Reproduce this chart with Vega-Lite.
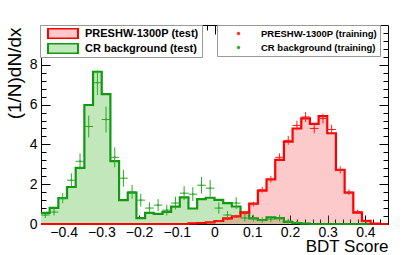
{
  "$schema": "https://vega.github.io/schema/vega-lite/v6.json",
  "width": 347,
  "height": 199,
  "autosize": "none",
  "padding": {"left": 41, "top": 25, "right": 21, "bottom": 31},
  "background": "white",
  "config": {
    "view": {"stroke": "black", "strokeWidth": 1},
    "axis": {"domain": false, "grid": false, "labelFont": "Liberation Sans", "labelFontSize": 14, "labelColor": "black", "tickColor": "black", "tickWidth": 1, "titleFont": "Liberation Sans", "titleFontWeight": "normal", "titleColor": "black", "labelOverlap": false, "labelFlush": false, "zindex": 1},
    "legend": {"labelFont": "Liberation Sans", "labelFontWeight": "bold", "labelColor": "black"}
  },
  "datasets": {
    "test": [
      {"s": "CR background (test)", "lo": -0.46, "v": 0.56},
      {"s": "CR background (test)", "lo": -0.437, "v": 0.81},
      {"s": "CR background (test)", "lo": -0.414, "v": 1.3},
      {"s": "CR background (test)", "lo": -0.391, "v": 1.86},
      {"s": "CR background (test)", "lo": -0.368, "v": 2.82},
      {"s": "CR background (test)", "lo": -0.345, "v": 5.98},
      {"s": "CR background (test)", "lo": -0.322, "v": 7.65},
      {"s": "CR background (test)", "lo": -0.299, "v": 6.53},
      {"s": "CR background (test)", "lo": -0.276, "v": 3.16},
      {"s": "CR background (test)", "lo": -0.253, "v": 1.2},
      {"s": "CR background (test)", "lo": -0.23, "v": 1.58},
      {"s": "CR background (test)", "lo": -0.207, "v": 0.3},
      {"s": "CR background (test)", "lo": -0.184, "v": 0.56},
      {"s": "CR background (test)", "lo": -0.161, "v": 0.51},
      {"s": "CR background (test)", "lo": -0.138, "v": 0.61},
      {"s": "CR background (test)", "lo": -0.115, "v": 0.87},
      {"s": "CR background (test)", "lo": -0.092, "v": 1.34},
      {"s": "CR background (test)", "lo": -0.069, "v": 0.78},
      {"s": "CR background (test)", "lo": -0.046, "v": 1.25},
      {"s": "CR background (test)", "lo": -0.023, "v": 1.32},
      {"s": "CR background (test)", "lo": 0, "v": 1.21},
      {"s": "CR background (test)", "lo": 0.023, "v": 1.05},
      {"s": "CR background (test)", "lo": 0.046, "v": 0.88},
      {"s": "CR background (test)", "lo": 0.069, "v": 0.56},
      {"s": "CR background (test)", "lo": 0.092, "v": 0.28},
      {"s": "CR background (test)", "lo": 0.115, "v": 0.2},
      {"s": "CR background (test)", "lo": 0.138, "v": 0.34},
      {"s": "CR background (test)", "lo": 0.161, "v": 0.3},
      {"s": "CR background (test)", "lo": 0.184, "v": 0.1},
      {"s": "CR background (test)", "lo": 0.207, "v": 0.04},
      {"s": "CR background (test)", "lo": 0.23, "v": 0.02},
      {"s": "CR background (test)", "lo": 0.253, "v": 0},
      {"s": "CR background (test)", "lo": 0.276, "v": 0},
      {"s": "CR background (test)", "lo": 0.299, "v": 0},
      {"s": "CR background (test)", "lo": 0.322, "v": 0},
      {"s": "CR background (test)", "lo": 0.345, "v": 0},
      {"s": "CR background (test)", "lo": 0.368, "v": 0},
      {"s": "CR background (test)", "lo": 0.391, "v": 0},
      {"s": "CR background (test)", "lo": 0.414, "v": 0},
      {"s": "CR background (test)", "lo": 0.437, "v": 0},
      {"s": "CR background (test)", "lo": 0.46, "v": 0},
      {"s": "PRESHW-1300P (test)", "lo": -0.46, "v": 0},
      {"s": "PRESHW-1300P (test)", "lo": -0.437, "v": 0},
      {"s": "PRESHW-1300P (test)", "lo": -0.414, "v": 0},
      {"s": "PRESHW-1300P (test)", "lo": -0.391, "v": 0},
      {"s": "PRESHW-1300P (test)", "lo": -0.368, "v": 0},
      {"s": "PRESHW-1300P (test)", "lo": -0.345, "v": 0},
      {"s": "PRESHW-1300P (test)", "lo": -0.322, "v": 0},
      {"s": "PRESHW-1300P (test)", "lo": -0.299, "v": 0},
      {"s": "PRESHW-1300P (test)", "lo": -0.276, "v": 0},
      {"s": "PRESHW-1300P (test)", "lo": -0.253, "v": 0},
      {"s": "PRESHW-1300P (test)", "lo": -0.23, "v": 0},
      {"s": "PRESHW-1300P (test)", "lo": -0.207, "v": 0},
      {"s": "PRESHW-1300P (test)", "lo": -0.184, "v": 0},
      {"s": "PRESHW-1300P (test)", "lo": -0.161, "v": 0},
      {"s": "PRESHW-1300P (test)", "lo": -0.138, "v": 0},
      {"s": "PRESHW-1300P (test)", "lo": -0.115, "v": 0},
      {"s": "PRESHW-1300P (test)", "lo": -0.092, "v": 0},
      {"s": "PRESHW-1300P (test)", "lo": -0.069, "v": 0.03},
      {"s": "PRESHW-1300P (test)", "lo": -0.046, "v": 0.05},
      {"s": "PRESHW-1300P (test)", "lo": -0.023, "v": 0.08},
      {"s": "PRESHW-1300P (test)", "lo": 0, "v": 0.15},
      {"s": "PRESHW-1300P (test)", "lo": 0.023, "v": 0.28},
      {"s": "PRESHW-1300P (test)", "lo": 0.046, "v": 0.38},
      {"s": "PRESHW-1300P (test)", "lo": 0.069, "v": 0.58},
      {"s": "PRESHW-1300P (test)", "lo": 0.092, "v": 1.02},
      {"s": "PRESHW-1300P (test)", "lo": 0.115, "v": 1.68},
      {"s": "PRESHW-1300P (test)", "lo": 0.138, "v": 2.24},
      {"s": "PRESHW-1300P (test)", "lo": 0.161, "v": 3.22},
      {"s": "PRESHW-1300P (test)", "lo": 0.184, "v": 4.14},
      {"s": "PRESHW-1300P (test)", "lo": 0.207, "v": 4.8},
      {"s": "PRESHW-1300P (test)", "lo": 0.23, "v": 5.31},
      {"s": "PRESHW-1300P (test)", "lo": 0.253, "v": 5.03},
      {"s": "PRESHW-1300P (test)", "lo": 0.276, "v": 5.42},
      {"s": "PRESHW-1300P (test)", "lo": 0.299, "v": 4.56},
      {"s": "PRESHW-1300P (test)", "lo": 0.322, "v": 2.72},
      {"s": "PRESHW-1300P (test)", "lo": 0.345, "v": 1.58},
      {"s": "PRESHW-1300P (test)", "lo": 0.368, "v": 0.57},
      {"s": "PRESHW-1300P (test)", "lo": 0.391, "v": 0.16},
      {"s": "PRESHW-1300P (test)", "lo": 0.414, "v": 0.02},
      {"s": "PRESHW-1300P (test)", "lo": 0.437, "v": 0},
      {"s": "PRESHW-1300P (test)", "lo": 0.46, "v": 0}
    ],
    "train": [
      {"s": "CR background (training)", "lo": -0.46, "hi": -0.437, "c": -0.4485, "v": 0.45, "e1": 0.3, "e2": 0.6},
      {"s": "CR background (training)", "lo": -0.437, "hi": -0.414, "c": -0.4255, "v": 0.6, "e1": 0.43, "e2": 0.77},
      {"s": "CR background (training)", "lo": -0.414, "hi": -0.391, "c": -0.4025, "v": 1.3, "e1": 1.05, "e2": 1.55},
      {"s": "CR background (training)", "lo": -0.391, "hi": -0.368, "c": -0.3795, "v": 2.2, "e1": 1.85, "e2": 2.55},
      {"s": "CR background (training)", "lo": -0.368, "hi": -0.345, "c": -0.3565, "v": 3.15, "e1": 2.75, "e2": 3.55},
      {"s": "CR background (training)", "lo": -0.345, "hi": -0.322, "c": -0.3335, "v": 4.9, "e1": 4.35, "e2": 5.45},
      {"s": "CR background (training)", "lo": -0.322, "hi": -0.299, "c": -0.3105, "v": 7.1, "e1": 6.48, "e2": 7.72},
      {"s": "CR background (training)", "lo": -0.299, "hi": -0.276, "c": -0.2875, "v": 5.25, "e1": 4.6, "e2": 5.9},
      {"s": "CR background (training)", "lo": -0.276, "hi": -0.253, "c": -0.2645, "v": 3.35, "e1": 2.85, "e2": 3.85},
      {"s": "CR background (training)", "lo": -0.253, "hi": -0.23, "c": -0.2415, "v": 2.3, "e1": 1.88, "e2": 2.72},
      {"s": "CR background (training)", "lo": -0.23, "hi": -0.207, "c": -0.2185, "v": 1.62, "e1": 1.27, "e2": 1.97},
      {"s": "CR background (training)", "lo": -0.207, "hi": -0.184, "c": -0.1955, "v": 1.2, "e1": 0.88, "e2": 1.52},
      {"s": "CR background (training)", "lo": -0.184, "hi": -0.161, "c": -0.1725, "v": 0.8, "e1": 0.52, "e2": 1.08},
      {"s": "CR background (training)", "lo": -0.161, "hi": -0.138, "c": -0.1495, "v": 0.95, "e1": 0.65, "e2": 1.25},
      {"s": "CR background (training)", "lo": -0.138, "hi": -0.115, "c": -0.1265, "v": 0.7, "e1": 0.43, "e2": 0.97},
      {"s": "CR background (training)", "lo": -0.115, "hi": -0.092, "c": -0.1035, "v": 1.05, "e1": 0.73, "e2": 1.37},
      {"s": "CR background (training)", "lo": -0.092, "hi": -0.069, "c": -0.0805, "v": 1.55, "e1": 1.2, "e2": 1.9},
      {"s": "CR background (training)", "lo": -0.069, "hi": -0.046, "c": -0.0575, "v": 1.5, "e1": 1.15, "e2": 1.85},
      {"s": "CR background (training)", "lo": -0.046, "hi": -0.023, "c": -0.0345, "v": 1.95, "e1": 1.53, "e2": 2.37},
      {"s": "CR background (training)", "lo": -0.023, "hi": 0, "c": -0.0115, "v": 1.8, "e1": 1.38, "e2": 2.22},
      {"s": "CR background (training)", "lo": 0, "hi": 0.023, "c": 0.0115, "v": 0.8, "e1": 0.52, "e2": 1.08},
      {"s": "CR background (training)", "lo": 0.023, "hi": 0.046, "c": 0.0345, "v": 0.45, "e1": 0.25, "e2": 0.65},
      {"s": "CR background (training)", "lo": 0.046, "hi": 0.069, "c": 0.0575, "v": 1.05, "e1": 0.75, "e2": 1.35},
      {"s": "CR background (training)", "lo": 0.069, "hi": 0.092, "c": 0.0805, "v": 0.3, "e1": 0.13, "e2": 0.47},
      {"s": "CR background (training)", "lo": 0.092, "hi": 0.115, "c": 0.1035, "v": 0.3, "e1": 0.13, "e2": 0.47},
      {"s": "CR background (training)", "lo": 0.115, "hi": 0.138, "c": 0.1265, "v": 0.2, "e1": 0.06, "e2": 0.34},
      {"s": "CR background (training)", "lo": 0.138, "hi": 0.161, "c": 0.1495, "v": 0.25, "e1": 0.1, "e2": 0.4},
      {"s": "CR background (training)", "lo": 0.161, "hi": 0.184, "c": 0.1725, "v": 0.3, "e1": 0.13, "e2": 0.47},
      {"s": "CR background (training)", "lo": 0.184, "hi": 0.207, "c": 0.1955, "v": 0.15, "e1": 0.03, "e2": 0.27},
      {"s": "CR background (training)", "lo": 0.207, "hi": 0.23, "c": 0.2185, "v": 0.08, "e1": 0, "e2": 0.16},
      {"s": "PRESHW-1300P (training)", "lo": -0.023, "hi": 0, "c": -0.0115, "v": 0.08, "e1": 0.04, "e2": 0.12},
      {"s": "PRESHW-1300P (training)", "lo": 0, "hi": 0.023, "c": 0.0115, "v": 0.15, "e1": 0.1, "e2": 0.2},
      {"s": "PRESHW-1300P (training)", "lo": 0.023, "hi": 0.046, "c": 0.0345, "v": 0.25, "e1": 0.19, "e2": 0.31},
      {"s": "PRESHW-1300P (training)", "lo": 0.046, "hi": 0.069, "c": 0.0575, "v": 0.38, "e1": 0.3, "e2": 0.46},
      {"s": "PRESHW-1300P (training)", "lo": 0.069, "hi": 0.092, "c": 0.0805, "v": 0.55, "e1": 0.45, "e2": 0.65},
      {"s": "PRESHW-1300P (training)", "lo": 0.092, "hi": 0.115, "c": 0.1035, "v": 1.0, "e1": 0.88, "e2": 1.12},
      {"s": "PRESHW-1300P (training)", "lo": 0.115, "hi": 0.138, "c": 0.1265, "v": 1.72, "e1": 1.57, "e2": 1.87},
      {"s": "PRESHW-1300P (training)", "lo": 0.138, "hi": 0.161, "c": 0.1495, "v": 2.25, "e1": 2.08, "e2": 2.42},
      {"s": "PRESHW-1300P (training)", "lo": 0.161, "hi": 0.184, "c": 0.1725, "v": 3.35, "e1": 3.15, "e2": 3.55},
      {"s": "PRESHW-1300P (training)", "lo": 0.184, "hi": 0.207, "c": 0.1955, "v": 4.2, "e1": 3.98, "e2": 4.42},
      {"s": "PRESHW-1300P (training)", "lo": 0.207, "hi": 0.23, "c": 0.2185, "v": 4.95, "e1": 4.71, "e2": 5.19},
      {"s": "PRESHW-1300P (training)", "lo": 0.23, "hi": 0.253, "c": 0.2415, "v": 5.38, "e1": 5.13, "e2": 5.63},
      {"s": "PRESHW-1300P (training)", "lo": 0.253, "hi": 0.276, "c": 0.2645, "v": 4.8, "e1": 4.56, "e2": 5.04},
      {"s": "PRESHW-1300P (training)", "lo": 0.276, "hi": 0.299, "c": 0.2875, "v": 5.3, "e1": 5.05, "e2": 5.55},
      {"s": "PRESHW-1300P (training)", "lo": 0.299, "hi": 0.322, "c": 0.3105, "v": 4.75, "e1": 4.51, "e2": 4.99},
      {"s": "PRESHW-1300P (training)", "lo": 0.322, "hi": 0.345, "c": 0.3335, "v": 2.72, "e1": 2.54, "e2": 2.9},
      {"s": "PRESHW-1300P (training)", "lo": 0.345, "hi": 0.368, "c": 0.3565, "v": 1.6, "e1": 1.46, "e2": 1.74},
      {"s": "PRESHW-1300P (training)", "lo": 0.368, "hi": 0.391, "c": 0.3795, "v": 0.63, "e1": 0.54, "e2": 0.72},
      {"s": "PRESHW-1300P (training)", "lo": 0.391, "hi": 0.414, "c": 0.4025, "v": 0.12, "e1": 0.08, "e2": 0.16}
    ]
  },
  "resolve": {"axis": {"x": "independent", "y": "independent"}},
  "layer": [
    {
      "data": {"name": "test"},
      "mark": {"type": "area", "interpolate": "step-after"},
      "encoding": {
        "x": {"field": "lo", "type": "quantitative", "scale": {"domain": [-0.46, 0.46], "nice": false, "zero": false},
          "axis": {"orient": "bottom", "values": [-0.44,-0.42,-0.4,-0.38,-0.36,-0.34,-0.32,-0.3,-0.28,-0.26,-0.24,-0.22,-0.2,-0.18,-0.16,-0.14,-0.12,-0.1,-0.08,-0.06,-0.04,-0.02,0,0.02,0.04,0.06,0.08,0.1,0.12,0.14,0.16,0.18,0.2,0.22,0.24,0.26,0.28,0.3,0.32,0.34,0.36,0.38,0.4,0.42,0.44],
            "format": ".1~f", "labelExpr": "abs(datum.value*10 - round(datum.value*10)) < 0.001 ? datum.label : ''",
            "tickSize": {"condition": {"test": "abs(datum.value*10 - round(datum.value*10)) < 0.001", "value": -9}, "value": -5},
            "labelPadding": 10, "labelBaseline": "top",
            "title": "BDT Score", "titleFontSize": 17, "titleX": 347, "titleY": 27, "titleAlign": "right", "titleBaseline": "alphabetic", "titleAnchor": "end"}},
        "y": {"field": "v", "type": "quantitative", "stack": null, "scale": {"domain": [0, 10], "nice": false, "zero": false},
          "axis": {"orient": "left", "values": [0,0.4,0.8,1.2,1.6,2,2.4,2.8,3.2,3.6,4,4.4,4.8,5.2,5.6,6,6.4,6.8,7.2,7.6,8,8.4,8.8,9.2,9.6],
            "format": ".0f", "labelExpr": "abs(datum.value/2 - round(datum.value/2)) < 0.001 ? datum.label : ''",
            "tickSize": {"condition": {"test": "abs(datum.value/2 - round(datum.value/2)) < 0.001", "value": -9}, "value": -5},
            "labelPadding": 13,
            "title": "(1/N)dN/dx", "titleFontSize": 19, "titleAngle": 270, "titleX": -21, "titleY": 2, "titleAlign": "right", "titleBaseline": "alphabetic", "titleAnchor": "end"}},
        "fill": {"field": "s", "type": "nominal",
          "scale": {"domain": ["PRESHW-1300P (test)", "CR background (test)"], "range": ["rgba(245,80,80,0.3)", "#c2e7ba"]},
          "legend": {"orient": "none", "legendX": -1, "legendY": 0, "title": null, "symbolType": "M-0.79,-0.26H0.79V0.26H-0.79Z", "symbolSize": 1444, "symbolStrokeWidth": 2, "clipHeight": 11, "rowPadding": 3, "padding": 3, "labelOffset": 2, "labelFontSize": 11, "fillColor": "white", "strokeColor": "#999999", "zindex": 0}}
      }
    },
    {
      "data": {"name": "test"},
      "mark": {"type": "line", "interpolate": "step-after", "strokeWidth": 2.2},
      "encoding": {
        "x": {"field": "lo", "type": "quantitative", "axis": null},
        "y": {"field": "v", "type": "quantitative", "axis": null},
        "stroke": {"field": "s", "type": "nominal",
          "scale": {"domain": ["PRESHW-1300P (test)", "CR background (test)"], "range": ["#ff0000", "#119a11"]},
          "legend": {"orient": "none", "legendX": -1, "legendY": 0, "title": null, "symbolType": "M-0.79,-0.26H0.79V0.26H-0.79Z", "symbolSize": 1444, "symbolStrokeWidth": 2, "clipHeight": 11, "rowPadding": 3, "padding": 3, "labelOffset": 2, "labelFontSize": 11, "fillColor": "white", "strokeColor": "#999999", "zindex": 0}}
      }
    },
    {
      "data": {"name": "train"},
      "mark": {"type": "rule", "strokeWidth": 1},
      "encoding": {
        "x": {"field": "lo", "type": "quantitative", "axis": null},
        "x2": {"field": "hi"},
        "y": {"field": "v", "type": "quantitative", "axis": null},
        "color": {"field": "s", "type": "nominal", "scale": {"domain": ["PRESHW-1300P (training)", "CR background (training)"], "range": ["#ff2020", "#2aa82a"]},
          "legend": {"orient": "none", "legendX": 176, "legendY": 0, "title": null, "symbolType": "M-0.072,0A0.072,0.072 0 1,0 0.072,0A0.072,0.072 0 1,0 -0.072,0Z", "symbolSize": 1296, "symbolStrokeWidth": 1, "clipHeight": 11, "rowPadding": 3, "padding": 3, "labelOffset": 4, "labelFontSize": 9.5, "fillColor": "white", "strokeColor": "#999999", "zindex": 0}}
      }
    },
    {
      "data": {"name": "train"},
      "mark": {"type": "rule", "strokeWidth": 1},
      "encoding": {
        "x": {"field": "c", "type": "quantitative", "axis": null},
        "y": {"field": "e1", "type": "quantitative", "axis": null},
        "y2": {"field": "e2"},
        "color": {"field": "s", "type": "nominal",
          "legend": {"orient": "none", "legendX": 176, "legendY": 0, "title": null, "symbolType": "M-0.072,0A0.072,0.072 0 1,0 0.072,0A0.072,0.072 0 1,0 -0.072,0Z", "symbolSize": 1296, "symbolStrokeWidth": 1, "clipHeight": 11, "rowPadding": 3, "padding": 3, "labelOffset": 4, "labelFontSize": 9.5, "fillColor": "white", "strokeColor": "#999999", "zindex": 0}}
      }
    },
    {
      "data": {"name": "train"},
      "mark": {"type": "point", "filled": true, "size": 4, "opacity": 1},
      "encoding": {
        "x": {"field": "c", "type": "quantitative", "axis": null},
        "y": {"field": "v", "type": "quantitative", "axis": null},
        "color": {"field": "s", "type": "nominal",
          "legend": {"orient": "none", "legendX": 176, "legendY": 0, "title": null, "symbolType": "M-0.072,0A0.072,0.072 0 1,0 0.072,0A0.072,0.072 0 1,0 -0.072,0Z", "symbolSize": 1296, "symbolStrokeWidth": 1, "clipHeight": 11, "rowPadding": 3, "padding": 3, "labelOffset": 4, "labelFontSize": 9.5, "fillColor": "white", "strokeColor": "#999999", "zindex": 0}}
      }
    },
    {
      "data": {"name": "train"},
      "mark": {"type": "point", "opacity": 0},
      "encoding": {
        "x": {"field": "c", "type": "quantitative",
          "axis": {"orient": "top", "labels": false, "title": null, "values": [-0.44,-0.42,-0.4,-0.38,-0.36,-0.34,-0.32,-0.3,-0.28,-0.26,-0.24,-0.22,-0.2,-0.18,-0.16,-0.14,-0.12,-0.1,-0.08,-0.06,-0.04,-0.02,0,0.02,0.04,0.06,0.08,0.1,0.12,0.14,0.16,0.18,0.2,0.22,0.24,0.26,0.28,0.3,0.32,0.34,0.36,0.38,0.4,0.42,0.44],
            "tickSize": {"condition": {"test": "abs(datum.value*10 - round(datum.value*10)) < 0.001", "value": -9}, "value": -5}}},
        "y": {"field": "v", "type": "quantitative",
          "axis": {"orient": "right", "labels": false, "title": null, "values": [0,0.4,0.8,1.2,1.6,2,2.4,2.8,3.2,3.6,4,4.4,4.8,5.2,5.6,6,6.4,6.8,7.2,7.6,8,8.4,8.8,9.2,9.6],
            "tickSize": {"condition": {"test": "abs(datum.value/2 - round(datum.value/2)) < 0.001", "value": -9}, "value": -5}}}
      }
    }
  ]
}
